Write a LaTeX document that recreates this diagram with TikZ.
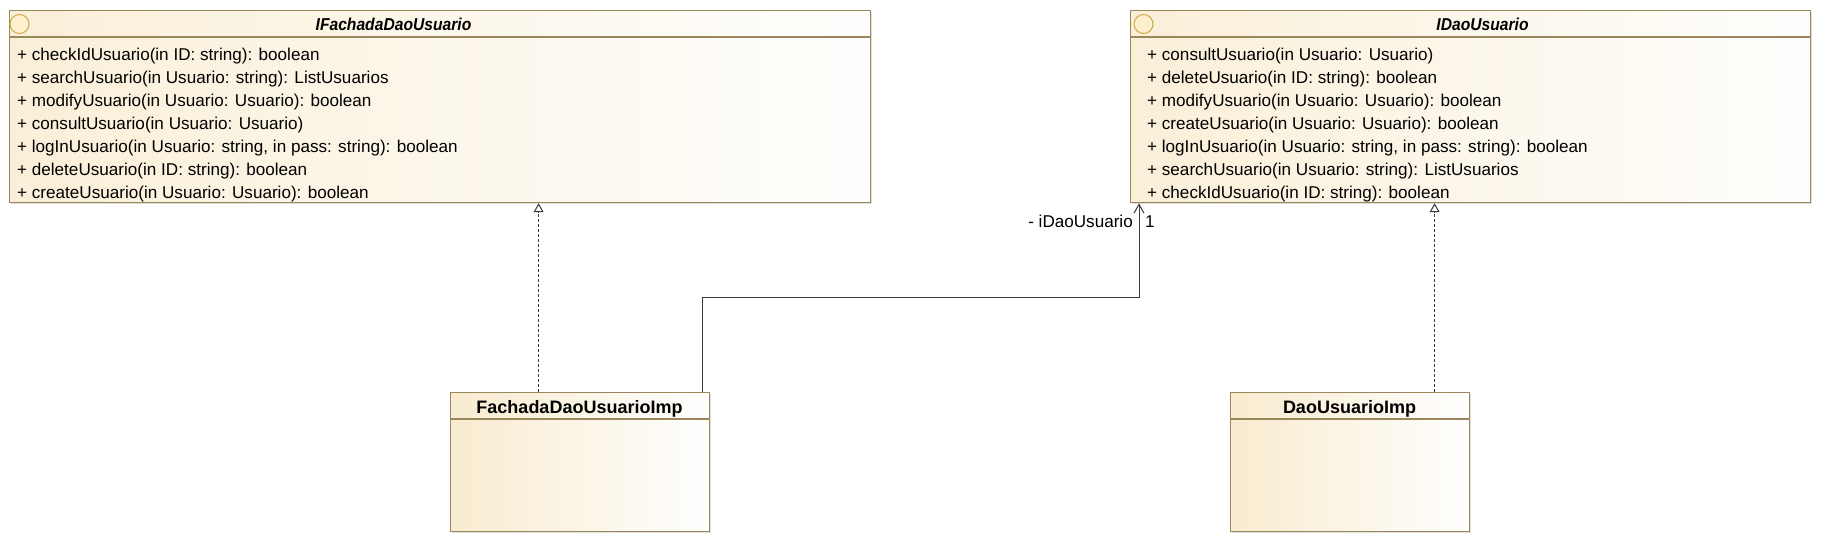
\documentclass[tikz,border=0pt]{standalone}
\usepackage{graphicx}
\usepackage{fontspec}
\setmainfont{Liberation Sans}
\usetikzlibrary{arrows.meta,calc,shadows}
\definecolor{bord}{HTML}{9A875C}
\definecolor{beige}{HTML}{F8EBCF}
\definecolor{beigetop}{HTML}{FAEFD8}
\definecolor{iconfill}{HTML}{FCF1CC}
\definecolor{iconline}{HTML}{CFA848}
\definecolor{conn}{HTML}{3A3A3A}
\tikzset{
  umlbox/.style={draw=bord, line width=1.2pt, inner sep=0pt, anchor=north west,
    drop shadow={shadow xshift=1.5pt, shadow yshift=-1.5pt, opacity=0.25, fill=gray}},
  topbox/.style={umlbox, left color=beigetop, right color=white!97!beige},
  lowbox/.style={umlbox, left color=beige, right color=white},
  sepline/.style={draw=bord, line width=2pt},
  thinsep/.style={draw=bord, line width=1.2pt},
  op/.style={inner sep=0pt, anchor=base west, font=\fontsize{17.1}{20}\selectfont},
  ititle/.style={inner sep=0pt, anchor=base, font=\fontsize{17.2}{20}\selectfont\bfseries\itshape},
  ctitle/.style={inner sep=0pt, anchor=base, font=\fontsize{18}{20}\selectfont\bfseries},
  lbl/.style={inner sep=0pt, font=\fontsize{17.1}{20}\selectfont},
  icon/.style={circle, draw=iconline, fill=iconfill, line width=1pt, minimum size=19pt, inner sep=0pt},
  real/.style={draw=conn, line width=1pt, dash pattern=on 3pt off 2pt, -{Triangle[open, width=10pt, length=9pt, line width=1pt]}},
  assoc/.style={draw=conn, line width=1pt, -{Straight Barb[length=9pt, width=10pt, line width=1pt]}}
}
\begin{document}
\begin{tikzpicture}[x=1pt, y=-1pt]
\useasboundingbox (0,0) rectangle (1821,542);
% IFachadaDaoUsuario
\node[topbox, minimum width=861pt, minimum height=192pt] (ifd) at (9,10) {};
\draw[sepline] ($(ifd.north west)+(0,27)$) -- ($(ifd.north east)+(0,27)$);
\node[icon] (ifdicon) at (19.5,24) {};
\node[ititle] (ifdtitle) at (393.5,30.5) {\scalebox{0.91}[1]{IFachadaDaoUsuario}};
\foreach [count=\i] \t in {
  {+ checkIdUsuario(in ID: string): boolean},
  {+ searchUsuario(in Usuario: string): ListUsuarios},
  {+ modifyUsuario(in Usuario: Usuario): boolean},
  {+ consultUsuario(in Usuario: Usuario)},
  {+ logInUsuario(in Usuario: string, in pass: string): boolean},
  {+ deleteUsuario(in ID: string): boolean},
  {+ createUsuario(in Usuario: Usuario): boolean}}
  \node[op] (ifdop\i) at (17,{60+23.05*(\i-1)}) {\t};
% IDaoUsuario
\node[topbox, minimum width=680pt, minimum height=192pt] (idu) at (1130,10) {};
\draw[sepline] ($(idu.north west)+(0,27)$) -- ($(idu.north east)+(0,27)$);
\node[icon] (iduicon) at (1143.5,24) {};
\node[ititle] (idutitle) at (1482.5,30.5) {\scalebox{0.91}[1]{IDaoUsuario}};
\foreach [count=\i] \t in {
  {+ consultUsuario(in Usuario: Usuario)},
  {+ deleteUsuario(in ID: string): boolean},
  {+ modifyUsuario(in Usuario: Usuario): boolean},
  {+ createUsuario(in Usuario: Usuario): boolean},
  {+ logInUsuario(in Usuario: string, in pass: string): boolean},
  {+ searchUsuario(in Usuario: string): ListUsuarios},
  {+ checkIdUsuario(in ID: string): boolean}}
  \node[op] (iduop\i) at (1147,{60+23.05*(\i-1)}) {\t};
% FachadaDaoUsuarioImp
\node[lowbox, minimum width=259pt, minimum height=139pt] (fimp) at (450,392) {};
\draw[thinsep] ($(fimp.north west)+(0,27)$) -- ($(fimp.north east)+(0,27)$);
\node[ctitle] (fimptitle) at (579.5,413) {FachadaDaoUsuarioImp};
% DaoUsuarioImp
\node[lowbox, minimum width=239pt, minimum height=139pt] (dimp) at (1230,392) {};
\draw[thinsep] ($(dimp.north west)+(0,27)$) -- ($(dimp.north east)+(0,27)$);
\node[ctitle] (dimptitle) at (1349.5,413) {DaoUsuarioImp};
% connectors
\draw[real] ([xshift=-41.5pt]fimp.north) -- ([xshift=-41.5pt]fimp.north |- ifd.south);
\draw[real] ([xshift=84.5pt]dimp.north) -- ([xshift=84.5pt]dimp.north |- idu.south);
\coordinate (assocend) at ([xshift=9pt]idu.south west);
\draw[assoc] ([xshift=122.5pt]fimp.north) -- ++(0,-95) -| (assocend);
\node[lbl, anchor=base east] (rolelbl) at (1133,227) {- iDaoUsuario};
\node[lbl, anchor=base west] (multlbl) at (1145,227) {1};
\end{tikzpicture}
\end{document}
